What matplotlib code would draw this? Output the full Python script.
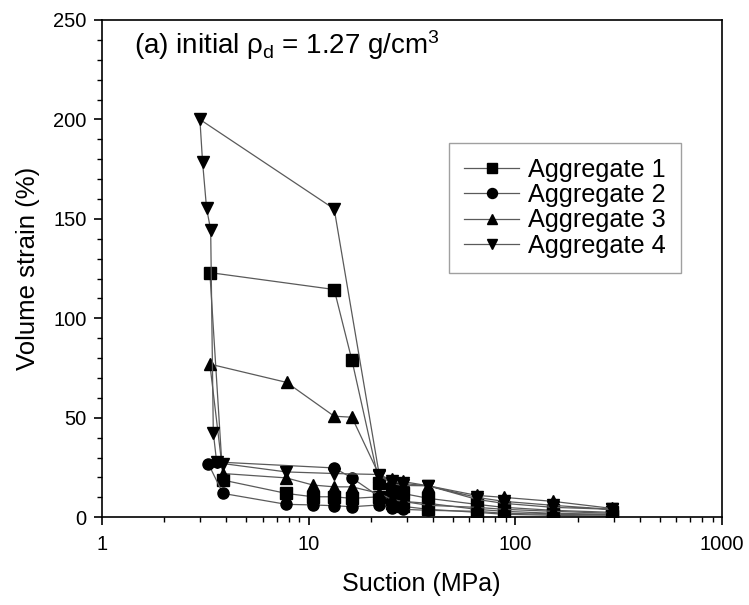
import matplotlib
matplotlib.use("Agg")
import matplotlib.pyplot as plt
from matplotlib.ticker import MultipleLocator, LogLocator, NullFormatter, FixedLocator, FixedFormatter

plt.rcParams['font.family'] = ['Liberation Sans', 'DejaVu Sans']

# Aggregate 1 (squares)
agg1_x = [292, 152, 88, 65, 38, 28.5, 25.2, 22, 16.2, 13.3, 10.5, 7.8, 3.85,
          3.33, 13.3, 16.2, 22, 25.2, 28.5, 38, 65, 88, 152, 292]
agg1_y = [0.5, 1.0, 1.5, 2.5, 4.0, 5.5, 7.0, 10.3, 9.5, 10.3, 10.3, 12.0, 18.7,
          123, 114.5, 79, 17, 14, 12, 9.5, 6.5, 5, 3.5, 2.5]

# Aggregate 2 (circles)
agg2_x = [292, 152, 88, 65, 38, 28.5, 25.2, 22, 16.2, 13.3, 10.5, 7.8, 3.85,
          3.27, 3.59, 13.3, 16.2, 22, 25.2, 28.5, 38, 65, 88, 152, 292]
agg2_y = [1.0, 1.5, 2.0, 3.0, 3.5, 4.0, 4.5, 6.2, 5.3, 5.8, 6.2, 6.5, 12.0,
          27, 27.8, 24.8, 19.8, 10.3, 9, 8, 7, 4, 3, 2, 1.5]

# Aggregate 3 (up triangles)
agg3_x = [292, 152, 88, 65, 38, 28.5, 25.2, 22, 16.2, 13.3, 10.5, 7.8, 3.85,
          3.33, 7.83, 13.3, 16.2, 22, 25.2, 28.5, 38, 65, 88, 152, 292]
agg3_y = [2.0, 3.0, 4.0, 5.0, 6.0, 8.0, 9.0, 12.0, 15.3, 15.3, 16.2, 19.8, 22.0,
          77, 67.8, 50.8, 50.3, 21, 19, 18, 15.8, 11, 10, 8, 4.5]

# Aggregate 4 (down triangles)
agg4_x = [292, 152, 88, 65, 38, 28.5, 25.2, 22, 13.3, 7.8, 3.85, 3.59, 3.46,
          3.36, 3.21, 3.07, 2.98, 13.3, 22, 25.2, 28.5, 38, 65, 88, 152, 292]
agg4_y = [4.0, 5.0, 7.0, 9.0, 15.8, 17.0, 18.0, 21.5, 22.0, 22.8, 27.0, 28.0, 42.5,
          144.5, 155.3, 178.6, 200, 155, 21, 17, 16, 15.8, 10, 8, 6, 4]

labels = ["Aggregate 1", "Aggregate 2", "Aggregate 3", "Aggregate 4"]
markers = ["s", "o", "^", "v"]

x_ticks = [1, 10, 100, 1000]
x_ticklabels = ["1", "10", "100", "1000"]
y_ticks = [0, 50, 100, 150, 200, 250]

fig = plt.figure(figsize=(7.49, 6.05), dpi=100)
ax = fig.add_axes([0.136, 0.145, 0.828, 0.822])

series = [(agg1_x, agg1_y), (agg2_x, agg2_y), (agg3_x, agg3_y), (agg4_x, agg4_y)]
for (xs, ys), lab, mk in zip(series, labels, markers):
    ax.plot(xs, ys, color='#5a5a5a', lw=0.9, marker=mk, markersize=8,
            markerfacecolor='black', markeredgecolor='black', label=lab)

ax.set_xscale('log')
ax.set_xlim(1, 1000)
ax.set_ylim(0, 250)
ax.xaxis.set_major_locator(FixedLocator(x_ticks))
ax.xaxis.set_major_formatter(FixedFormatter(x_ticklabels))
ax.xaxis.set_minor_locator(LogLocator(base=10, subs=range(2, 10)))
ax.xaxis.set_minor_formatter(NullFormatter())
ax.yaxis.set_major_locator(FixedLocator(y_ticks))
ax.yaxis.set_minor_locator(MultipleLocator(10))

ax.tick_params(which='major', direction='out', length=6, width=1.2, labelsize=14.5,
               colors='black')
ax.tick_params(axis='x', which='major', pad=7)
ax.tick_params(axis='y', which='major', pad=5)
ax.tick_params(which='minor', direction='out', length=3.5, width=1.0)
for s in ax.spines.values():
    s.set_linewidth(1.2)

ax.set_xlabel("Suction (MPa)", fontsize=18)
ax.set_ylabel("Volume strain (%)", fontsize=18.5)
ax.xaxis.set_label_coords(0.515, -0.11)
ax.yaxis.set_label_coords(-0.1, 0.5)

ax.text(0.052, 0.95, r"(a) initial $\mathregular{\rho_d}$ = 1.27 g/cm$\mathregular{^3}$",
        transform=ax.transAxes, fontsize=20, va='center')

leg = ax.legend(loc='upper left', bbox_to_anchor=(0.559, 0.753), borderaxespad=0,
                fontsize=18.2, frameon=True, fancybox=False, edgecolor='#888888',
                handlelength=2.2, handletextpad=0.35, labelspacing=0.05,
                borderpad=0.6, markerscale=0.9)
leg.get_frame().set_linewidth(1.0)

fig.savefig("out.png", dpi=100)
